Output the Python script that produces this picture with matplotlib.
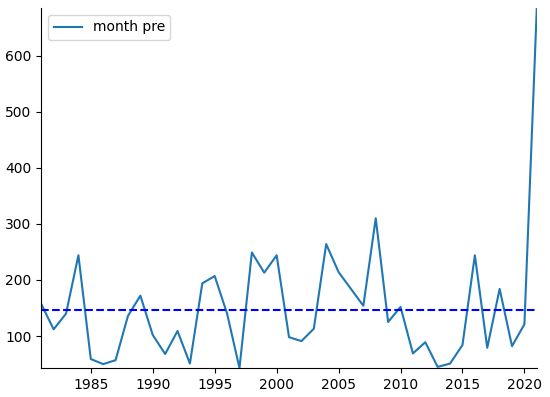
import matplotlib
matplotlib.use('Agg')
import matplotlib.pyplot as plt

years = list(range(1981, 2022))
pre = [157, 112, 140, 244, 59, 50, 57, 136, 172, 102,
       68, 109, 51, 194, 207, 140, 43, 249, 213, 244,
       98, 91, 113, 264, 214, 184, 154, 310, 125, 152,
       69, 89, 45, 51, 84, 244, 79, 184, 82, 121, 685]
mean_pre = 147

fig = plt.figure(figsize=(5.5, 3.97), dpi=100)
ax = fig.add_axes([0.075, 0.073, 0.901, 0.907])
ax.plot(years, pre, color='tab:blue', label='month pre')
ax.axhline(mean_pre, color='b', ls='--')
ax.set_xlim(min(years), max(years))
ax.set_ylim(min(pre), max(pre))
ax.spines['top'].set_visible(False)
ax.spines['right'].set_visible(False)
ax.legend(loc='upper left')
fig.savefig('out.png')
